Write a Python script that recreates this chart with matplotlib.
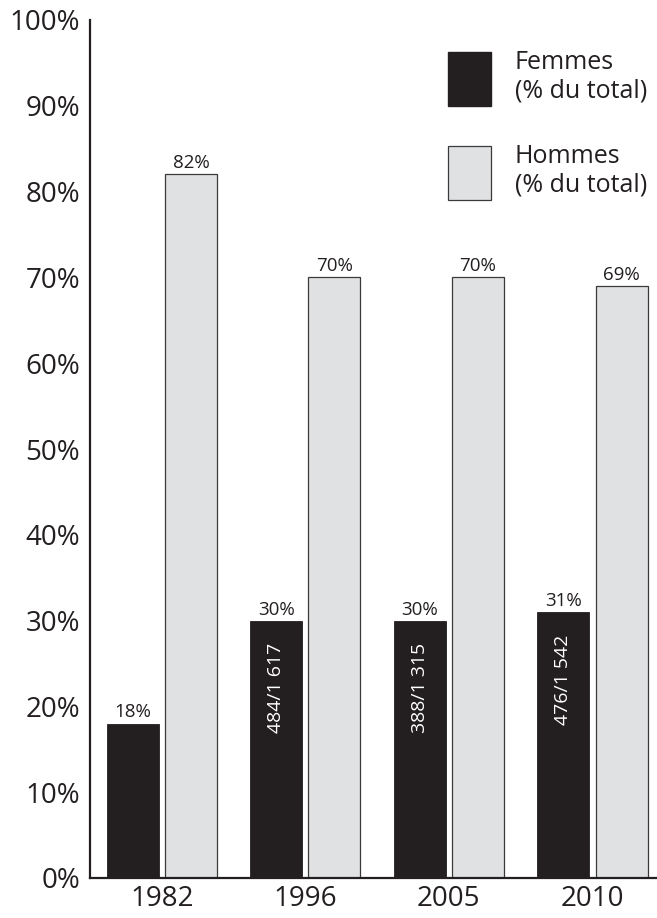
import numpy as np
import matplotlib.pyplot as plt
from matplotlib.patches import Patch

plt.rcParams['font.family'] = ['Open Sans', 'DejaVu Sans']

annees = ["1982", "1996", "2005", "2010"]
femmes = [18, 30, 30, 31]
hommes = [82, 70, 70, 69]
effectifs_femmes = ["", "484/1 617", "388/1 315", "476/1 542"]
yticks = [0, 10, 20, 30, 40, 50, 60, 70, 80, 90, 100]

noir = "#231f20"
gris = "#e0e1e3"

fig = plt.figure(figsize=(6.57, 9.18), dpi=100)
ax = fig.add_axes([90/657, 1 - 878/918, 1 - 90/657, (878 - 20)/918])

x = np.arange(len(annees))
largeur = 0.362
b1 = ax.bar(x - 0.203, femmes, largeur, color=noir, edgecolor=noir, linewidth=0.6)
b2 = ax.bar(x + 0.203, hommes, largeur, color=gris, edgecolor="#3a3a3a", linewidth=0.9)

# pourcentages au-dessus des barres
for rect, v in zip(b1, femmes):
    ax.annotate(f"{v}%", (rect.get_x() + rect.get_width()/2, v), xytext=(0, 1.5),
                textcoords="offset points", ha="center", va="bottom", fontsize=13.5, color=noir)
for rect, v in zip(b2, hommes):
    ax.annotate(f"{v}%", (rect.get_x() + rect.get_width()/2, v), xytext=(0, 1.5),
                textcoords="offset points", ha="center", va="bottom", fontsize=13.5, color=noir)
# effectifs dans les barres noires
for rect, v, t in zip(b1, femmes, effectifs_femmes):
    if t:
        ax.annotate(t, (rect.get_x() + rect.get_width()/2, v), xytext=(0, -16),
                    textcoords="offset points", ha="center", va="top", rotation=90,
                    fontsize=14, color="white")

ax.set_xlim(-0.5, 3.45)
ax.set_ylim(0, 100)
ax.set_yticks(yticks)
ax.set_yticklabels([f"{t}%" for t in yticks])
ax.set_xticks(x)
ax.set_xticklabels(annees)
ax.tick_params(axis="both", length=0, labelsize=20, colors=noir)
ax.tick_params(axis="y", pad=7)
ax.tick_params(axis="x", pad=5)

for s in ["top", "right"]:
    ax.spines[s].set_visible(False)
for s in ["left", "bottom"]:
    ax.spines[s].set_linewidth(1.6)
    ax.spines[s].set_color(noir)

handles = [Patch(facecolor=noir, edgecolor=noir),
           Patch(facecolor=gris, edgecolor="#3a3a3a", linewidth=0.9)]
fig.legend(handles, ["Femmes\n(% du total)", "Hommes\n(% du total)"],
           loc="upper left", bbox_to_anchor=(448/657, 1 - 50/918), frameon=False,
           fontsize=18, handlelength=1.72, handleheight=2.95, handletextpad=0.95,
           labelspacing=1.5, borderpad=0, borderaxespad=0, labelcolor=noir)

fig.savefig("out.png", dpi=100)
